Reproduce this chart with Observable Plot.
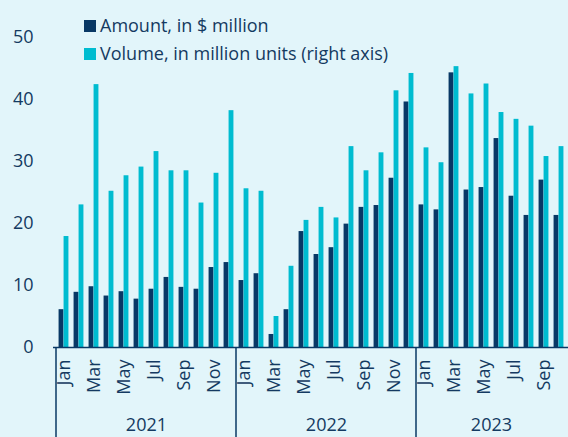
<!DOCTYPE html>
<html>
<head>
<meta charset="utf-8">
<script src="https://cdn.jsdelivr.net/npm/d3@7"></script>
<script src="https://cdn.jsdelivr.net/npm/@observablehq/plot@0.6"></script>
<style>
html, body { margin: 0; padding: 0; background: #e2f5fa; }
</style>
</head>
<body>
<div id="chart"></div>
<script>
const years = ["2021", "2022", "2023"];
const monthsPerYear = [12, 12, 10];
const monthNames = ["Jan","Feb","Mar","Apr","May","Jun","Jul","Aug","Sep","Oct","Nov","Dec"];
const amount = [
  6.1, 8.9, 9.8, 8.3, 9.0, 7.8, 9.4, 11.3, 9.7, 9.4, 12.9, 13.7,
  10.8, 11.9, 2.1, 6.1, 18.7, 15.0, 16.1, 19.9, 22.6, 22.9, 27.3, 39.6,
  23.0, 22.2, 44.3, 25.4, 25.8, 33.7, 24.4, 21.3, 27.0, 21.3
];
const volume = [
  17.9, 23.0, 42.4, 25.2, 27.7, 29.1, 31.6, 28.5, 28.5, 23.3, 28.1, 38.2,
  25.6, 25.2, 5.0, 13.1, 20.5, 22.6, 20.9, 32.4, 28.5, 31.4, 41.4, 44.2,
  32.2, 29.8, 45.3, 40.9, 42.5, 37.9, 36.8, 35.7, 30.8, 32.4
];
const legendLabels = ["Amount, in $ million", "Volume, in million units (right axis)"];
const yTicks = [0, 10, 20, 30, 40, 50];

const dark = "#083865";
const cyan = "#00bcd0";
const textColor = "#143a61";
const bg = "#e2f5fa";

const months = [];
years.forEach((y, i) => {
  for (let m = 0; m < monthsPerYear[i]; m++) {
    months.push({ key: `${y}-${String(m + 1).padStart(2, "0")}`, year: y, m });
  }
});
const data = months.map((d, i) => ({ ...d, amount: amount[i], volume: volume[i] }));
const yearStarts = years.map((y) => `${y}-01`);
const yearCenters = years.map((y, i) => ({
  key: `${y}-${String(Math.floor(monthsPerYear[i] / 2) + 1).padStart(2, "0")}`,
  year: y
}));

const W = 568, H = 437, ML = 53, MR = 0, MT = 37, MB = 90;
const bw = (W - ML - MR) / months.length;

const legendData = [
  { label: legendLabels[0], color: dark, row: 0 },
  { label: legendLabels[1], color: cyan, row: 1 }
];

const plot = Plot.plot({
  width: W,
  height: H,
  marginLeft: ML,
  marginRight: MR,
  marginTop: MT,
  marginBottom: MB,
  style: { background: bg, fontFamily: "'Open Sans', sans-serif", fontSize: "18px", color: textColor },
  x: {
    domain: months.map((d) => d.key),
    padding: 0,
    tickSize: 0,
    tickRotate: -90,
    tickPadding: 12,
    tickFormat: (k) => { const m = +k.slice(5) - 1; return m % 2 === 0 ? monthNames[m] : ""; },
    label: null
  },
  y: { domain: [0, 50], ticks: yTicks, tickSize: 0, tickPadding: 20, label: null },
  marks: [
    Plot.barY(data, { x: "key", y: "amount", fill: dark, insetLeft: bw * 0.17, insetRight: bw * 0.5 }),
    Plot.barY(data, { x: "key", y: "volume", fill: cyan, insetLeft: bw * 0.5, insetRight: bw * 0.17 }),
    Plot.ruleY([0], { stroke: dark, strokeWidth: 1.5 }),
    Plot.text(yearCenters, { x: "key", text: "year", dx: -bw / 2, frameAnchor: "bottom", dy: 78, lineAnchor: "middle", fill: textColor, fontSize: 18 })
  ]
});

const svg = d3.select(plot);

// legend drawn inside the svg
const lg = svg.append("g").attr("text-anchor", "start");
legendData.forEach((d) => {
  const cy = 26 + d.row * 28;
  lg.append("rect").attr("x", 84).attr("y", cy - 6).attr("width", 12).attr("height", 12).attr("fill", d.color);
  lg.append("text").attr("x", 100).attr("y", cy).attr("dy", "0.34em").attr("fill", textColor)
    .attr("text-anchor", "start").attr("font-size", 18).text(d.label);
});

// year separators
const xs = plot.scale("x");
const ys = plot.scale("y");
const y0 = ys.apply(0);
yearStarts.forEach((k) => {
  const x = xs.apply(k);
  svg.append("line").attr("x1", x).attr("x2", x).attr("y1", y0).attr("y2", H)
    .attr("stroke", dark).attr("stroke-width", 1.5);
});

svg.selectAll("[aria-label='x-axis tick label'], [aria-label='y-axis tick label']").attr("fill", textColor);

document.getElementById("chart").appendChild(plot);
</script>
</body>
</html>
